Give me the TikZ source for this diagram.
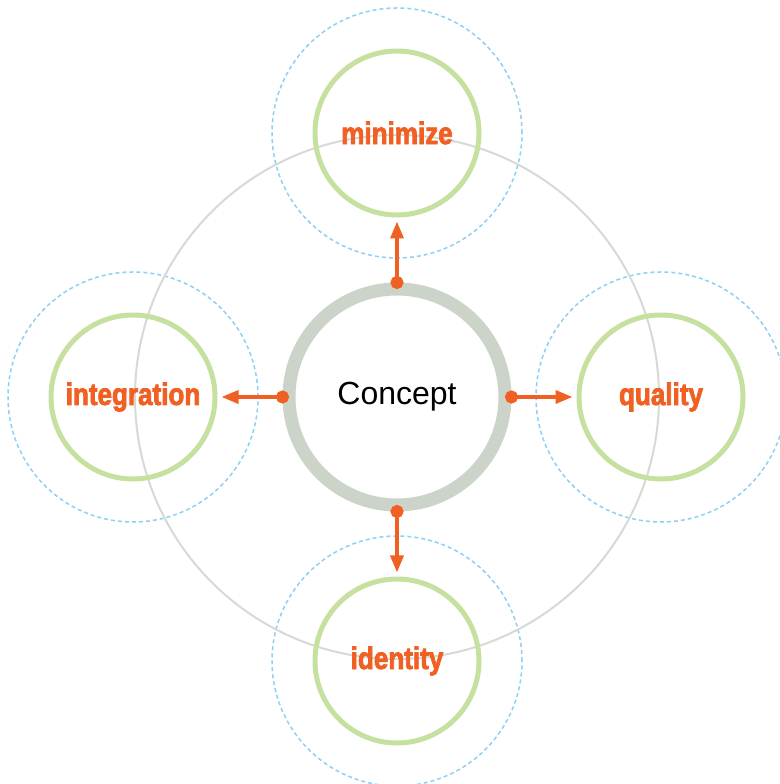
\documentclass[tikz,border=0pt]{standalone}
\usepackage{fontspec}
\setmainfont{Liberation Sans}
\newfontfamily\topicfont[FakeStretch=0.84,FakeBold=2.5]{Liberation Sans}
\usetikzlibrary{arrows.meta,positioning}
\definecolor{hubgray}{RGB}{204,212,202}
\definecolor{orbitgray}{RGB}{214,218,213}
\definecolor{topicgreen}{RGB}{198,224,160}
\definecolor{zoneblue}{RGB}{140,208,245}
\definecolor{accent}{RGB}{240,96,35}
\tikzset{hub/.style={draw=hubgray, circle, line width=13pt, minimum size=216pt, inner sep=0pt, font=\fontsize{32}{36}\selectfont}}
\tikzstyle{topic}=[draw=topicgreen, circle, line width=5pt, minimum size=164pt, inner sep=0pt, text=accent, font=\topicfont\bfseries\fontsize{31}{34}\selectfont]
\tikzstyle{zone}=[draw=zoneblue, circle, line width=1.5pt, dash pattern=on 4pt off 3pt, minimum size=250pt, inner sep=0pt]
\tikzstyle{orbit}=[draw=orbitgray, line width=2pt]
\tikzstyle{link}=[draw=accent, fill=accent, line width=3.5pt, {Circle[length=13pt]}-{Triangle[length=17pt,width=13pt]}, shorten <=-6.5pt, shorten >=4pt]

\begin{document}
\begin{tikzpicture}[x=1pt, y=1pt, node distance=264pt]
\useasboundingbox (0,0) rectangle (779,784);
\coordinate (c) at (397,387);
\node[zone] (z-minimize) [above of=c] {};
\node[zone] (z-integration) [left of=c] {};
\node[zone] (z-quality) [right of=c] {};
\node[zone] (z-identity) [below of=c] {};
\draw[orbit] (c) circle (262pt);
\node[hub] (concept) at (c) {Concept};
\node[topic] (minimize) [above of=concept] {minimize};
\node[topic] (integration) [left of=concept] {integration};
\node[topic] (quality) [right of=concept] {quality};
\node[topic] (identity) [below of=concept] {identity};
\draw[link] (concept.north) -- (minimize.south);
\draw[link] (concept.west) -- (integration.east);
\draw[link] (concept.east) -- (quality.west);
\draw[link] (concept.south) -- (identity.north);
\end{tikzpicture}
\end{document}
